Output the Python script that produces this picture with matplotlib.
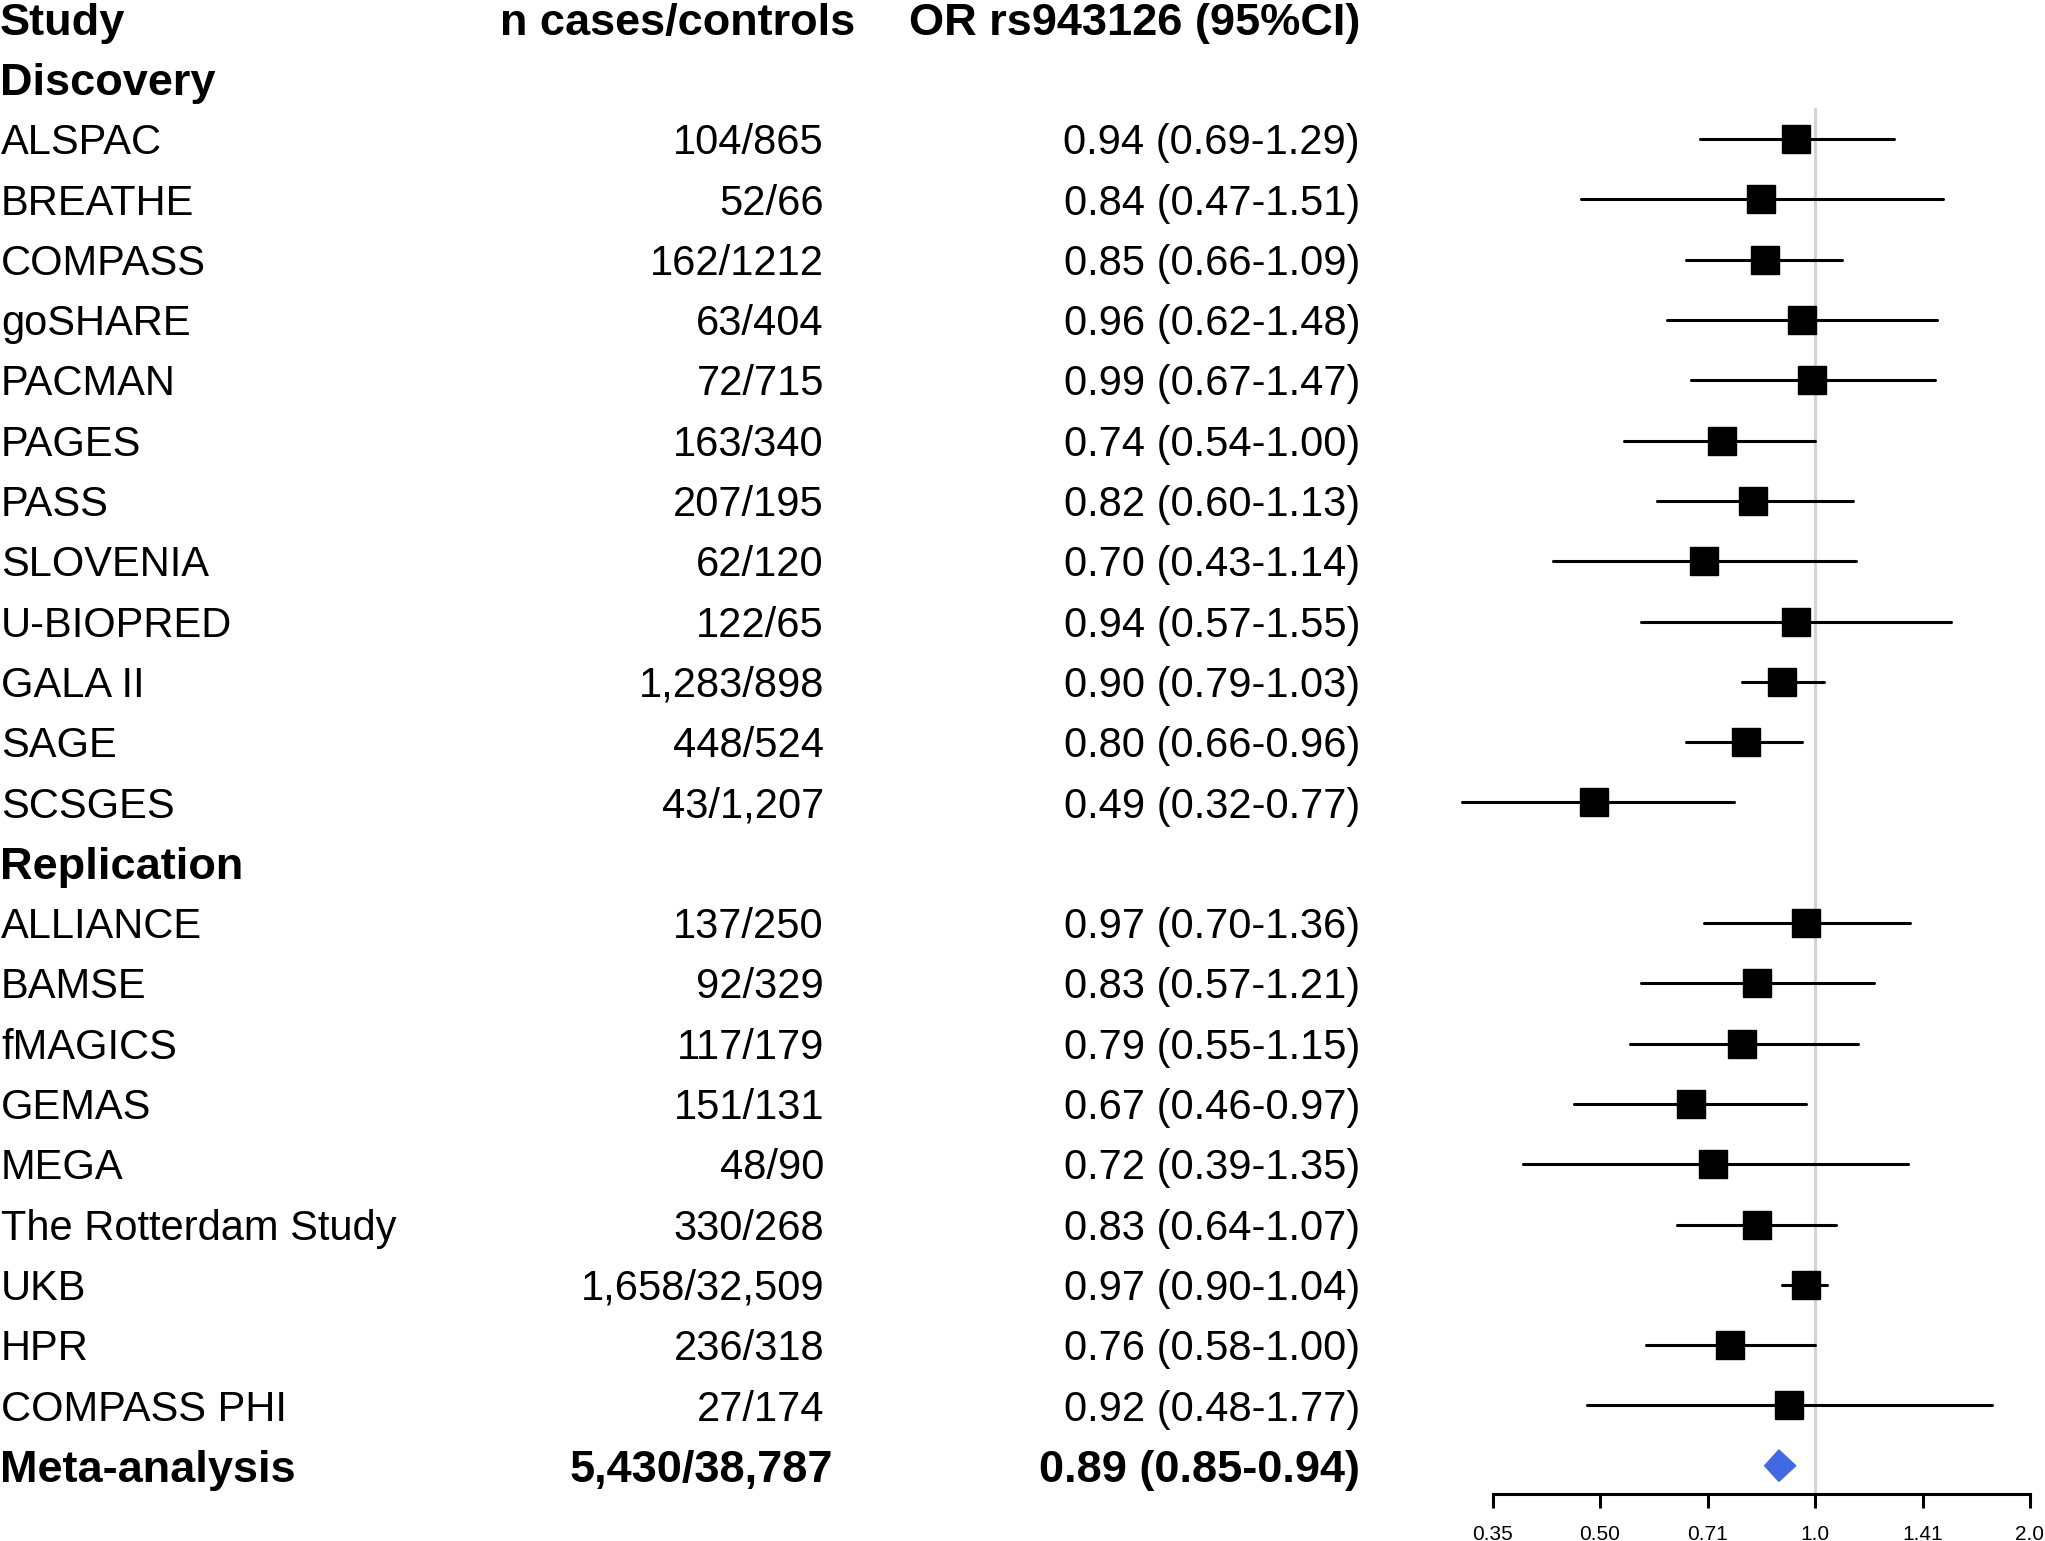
import matplotlib
matplotlib.use("Agg")
import matplotlib.pyplot as plt
import matplotlib.transforms as mtransforms
from matplotlib.patches import Polygon
import numpy as np

plt.rcParams['font.family'] = ['Liberation Sans', 'DejaVu Sans']

# ---------------- data ----------------
disc_studies = ["ALSPAC", "BREATHE", "COMPASS", "goSHARE", "PACMAN", "PAGES", "PASS",
                "SLOVENIA", "U-BIOPRED", "GALA II", "SAGE", "SCSGES"]
disc_n = ["104/865", "52/66", "162/1212", "63/404", "72/715", "163/340", "207/195",
          "62/120", "122/65", "1,283/898", "448/524", "43/1,207"]
disc_or = [0.94, 0.84, 0.85, 0.96, 0.99, 0.74, 0.82, 0.70, 0.94, 0.90, 0.80, 0.49]
disc_lo = [0.69, 0.47, 0.66, 0.62, 0.67, 0.54, 0.60, 0.43, 0.57, 0.79, 0.66, 0.32]
disc_hi = [1.29, 1.51, 1.09, 1.48, 1.47, 1.00, 1.13, 1.14, 1.55, 1.03, 0.96, 0.77]

rep_studies = ["ALLIANCE", "BAMSE", "fMAGICS", "GEMAS", "MEGA", "The Rotterdam Study",
               "UKB", "HPR", "COMPASS PHI"]
rep_n = ["137/250", "92/329", "117/179", "151/131", "48/90", "330/268",
         "1,658/32,509", "236/318", "27/174"]
rep_or = [0.97, 0.83, 0.79, 0.67, 0.72, 0.83, 0.97, 0.76, 0.92]
rep_lo = [0.70, 0.57, 0.55, 0.46, 0.39, 0.64, 0.90, 0.58, 0.48]
rep_hi = [1.36, 1.21, 1.15, 0.97, 1.35, 1.07, 1.04, 1.00, 1.77]

meta_label = "Meta-analysis"
meta_n = "5,430/38,787"
meta_or, meta_lo, meta_hi = 0.89, 0.85, 0.94

headers = ["Study", "n cases/controls", "OR rs943126 (95%CI)"]
group_labels = ["Discovery", "Replication"]
tick_vals = [2 ** -1.5, 0.5, 2 ** -0.5, 1.0, 2 ** 0.5, 2.0]
tick_labels = ["0.35", "0.50", "0.71", "1.0", "1.41", "2.0"]

# ---------------- layout ----------------
W, H = 2045, 1541
fig = plt.figure(figsize=(W / 100, H / 100), dpi=100)
fig.patch.set_facecolor("white")

row0, rowh = 18.5, 60.3          # pixel centre of row 0 and row height
x_one, unit = 1815, 215          # pixel of OR=1 and px per log2 unit
ax_left, ax_right = 1440, 2045

ax = fig.add_axes([ax_left / W, 0, (ax_right - ax_left) / W, 1])
ax.set_xscale('log', base=2)
ax.set_xlim(2 ** ((ax_left - x_one) / unit), 2 ** ((ax_right - x_one) / unit))
ax.set_ylim((H - row0) / rowh, -row0 / rowh)
ax.patch.set_alpha(0)

# rows
disc_rows = list(range(2, 2 + len(disc_studies)))
rep_start = 2 + len(disc_studies) + 1
rep_rows = list(range(rep_start, rep_start + len(rep_studies)))
meta_row = rep_rows[-1] + 1
axis_row = meta_row + 0.47

# reference line
ax.plot([1.0, 1.0], [1.5, axis_row], color="#d3d3d3", lw=2.2, zorder=1)

# CIs and squares
all_rows = disc_rows + rep_rows
all_or = disc_or + rep_or
all_lo = disc_lo + rep_lo
all_hi = disc_hi + rep_hi
for r, o, lo, hi in zip(all_rows, all_or, all_lo, all_hi):
    ax.plot([lo, hi], [r, r], color="black", lw=2.2, solid_capstyle="round", zorder=2)
ax.plot(all_or, all_rows, linestyle="none", marker="s", markersize=19.5,
        markerfacecolor="black", markeredgecolor="black", zorder=3)

# diamond
dh = 0.26
diamond = Polygon([[meta_lo, meta_row], [meta_or, meta_row - dh],
                   [meta_hi, meta_row], [meta_or, meta_row + dh]],
                  closed=True, facecolor="#4169E1", edgecolor="#4169E1", lw=1, zorder=3)
ax.add_patch(diamond)

# axis
for s in ["top", "left", "right"]:
    ax.spines[s].set_visible(False)
ax.spines["bottom"].set_position(("data", axis_row))
ax.spines["bottom"].set_bounds(tick_vals[0], tick_vals[-1])
ax.spines["bottom"].set_linewidth(2.2)
ax.set_yticks([])
ax.xaxis.set_major_locator(matplotlib.ticker.FixedLocator(tick_vals))
ax.xaxis.set_minor_locator(matplotlib.ticker.NullLocator())
ax.set_xticklabels(tick_labels)
ax.tick_params(axis="x", direction="out", length=10, width=2.2, labelsize=15, pad=12)

# ---------------- text ----------------
base = mtransforms.blended_transform_factory(fig.transFigure, ax.transData)
fs_norm = 30
fs_bold = 32.5

def txt(xpx, row, s, ha="left", bold=False):
    fs = fs_bold if bold else fs_norm
    cap_half_in = 0.729 * fs / 72 / 2
    tr = base + mtransforms.ScaledTranslation(0, -cap_half_in, fig.dpi_scale_trans)
    fig.text(xpx / W, row, s, transform=tr, ha=ha, va="baseline", fontsize=fs,
             fontweight="bold" if bold else "normal", color="black")

x_study, x_n, x_or = 1, 824, 1360

txt(0, 0, headers[0], bold=True)
txt(855, 0, headers[1], ha="right", bold=True)
txt(x_or, 0, headers[2], ha="right", bold=True)
txt(0, 1, group_labels[0], bold=True)
txt(0, rep_start - 1, group_labels[1], bold=True)

for r, s, n, o, lo, hi in zip(disc_rows + rep_rows, disc_studies + rep_studies,
                              disc_n + rep_n, all_or, all_lo, all_hi):
    txt(x_study, r, s)
    txt(x_n, r, n, ha="right")
    txt(x_or, r, f"{o:.2f} ({lo:.2f}-{hi:.2f})", ha="right")

txt(0, meta_row, meta_label, bold=True)
txt(833, meta_row, meta_n, ha="right", bold=True)
txt(x_or, meta_row, f"{meta_or:.2f} ({meta_lo:.2f}-{meta_hi:.2f})", ha="right", bold=True)

fig.savefig("out.png", dpi=100, facecolor="white")
